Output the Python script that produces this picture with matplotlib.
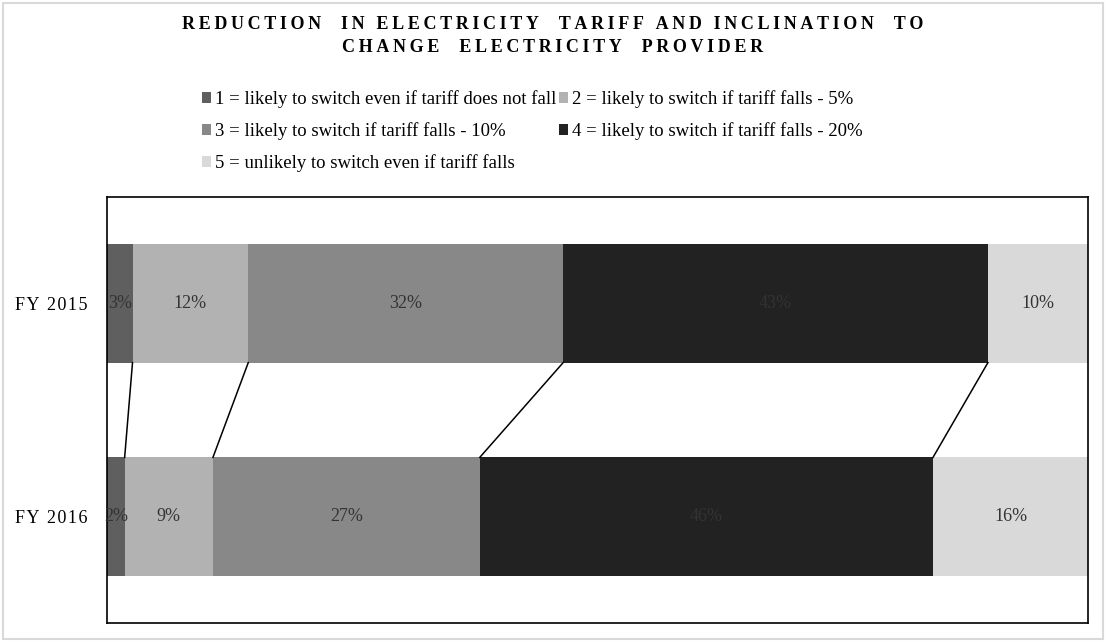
import matplotlib
matplotlib.use("Agg")
import matplotlib.pyplot as plt
from matplotlib.patches import Patch, Rectangle
import numpy as np

plt.rcParams['font.family'] = ['Liberation Serif', 'DejaVu Serif']

# data (percent of respondents)
years = ['FY 2015', 'FY 2016']
series_labels = [
    '1 = likely to switch even if tariff does not fall',
    '2 = likely to switch if tariff falls - 5%',
    '3 = likely to switch if tariff falls - 10%',
    '4 = likely to switch if tariff falls - 20%',
    '5 = unlikely to switch even if tariff falls',
]
fy2015 = [2.6, 11.8, 32.1, 43.3, 10.2]
fy2016 = [1.8, 9.0, 27.2, 46.2, 15.8]
colors = ['#5f5f5f', '#b2b2b2', '#888888', '#222222', '#d9d9d9']

W, H = 1106, 642


def spaced(s, sep='\u200a'):
    # fake letter spacing
    return sep.join(s)


fig = plt.figure(figsize=(W / 100, H / 100), dpi=100)
ax = fig.add_axes([107 / W, 1 - 623 / H, 981 / W, 426 / H])

data = np.array([fy2015, fy2016])
y = np.arange(len(years))
bar_h = 0.555
left = np.zeros(len(years))
for i in range(len(series_labels)):
    ax.barh(y, data[:, i], left=left, height=bar_h, color=colors[i], linewidth=0)
    for j in range(len(years)):
        ax.text(left[j] + data[j, i] / 2, y[j], '%.0f%%' % data[j, i],
                ha='center', va='center', fontsize=13, color='#333333')
    left = left + data[:, i]

# series lines between the two bars
cum = np.cumsum(data, axis=1)
for i in range(len(series_labels) - 1):
    ax.plot([cum[0, i], cum[1, i]], [y[0] + bar_h / 2, y[1] - bar_h / 2],
            color='black', lw=1.1)

ax.set_xlim(0, 100)
ax.set_ylim(1.5, -0.5)
ax.set_xticks([])
ax.set_yticks(y)
ax.set_yticklabels([spaced(t) for t in years], fontsize=13)
ax.tick_params(axis='y', length=0, pad=14)
for sp in ax.spines.values():
    sp.set_color('black')
    sp.set_linewidth(1.2)

# title, letter spaced
fig.text(0.5, 1 - 24.5 / H, spaced('REDUCTION  IN ELECTRICITY  TARIFF AND INCLINATION  TO', '\u2009'),
         ha='center', va='center', fontsize=13, fontweight='bold')
fig.text(0.5, 1 - 47.5 / H, spaced('CHANGE  ELECTRICITY  PROVIDER', '\u2009'),
         ha='center', va='center', fontsize=13, fontweight='bold')

# legend entries placed like the Excel legend grid
legend_pos = [(202, 99), (559, 99), (202, 131), (559, 131), (202, 163)]
for i, (px, py) in enumerate(legend_pos):
    fig.legend(handles=[Patch(facecolor=colors[i], edgecolor='none')],
               labels=[series_labels[i]], loc='center left',
               bbox_to_anchor=(px / W, 1 - py / H), frameon=False,
               borderpad=0, borderaxespad=0, handlelength=0.5, handleheight=0.5,
               handletextpad=0.2, fontsize=13.5)

# light outer border
fig.patches.append(Rectangle((3 / W, 3 / H), 1 - 6 / W, 1 - 6 / H,
                             transform=fig.transFigure, fill=False,
                             edgecolor='#d9d9d9', lw=1.5))

fig.savefig('out.png', dpi=100)
